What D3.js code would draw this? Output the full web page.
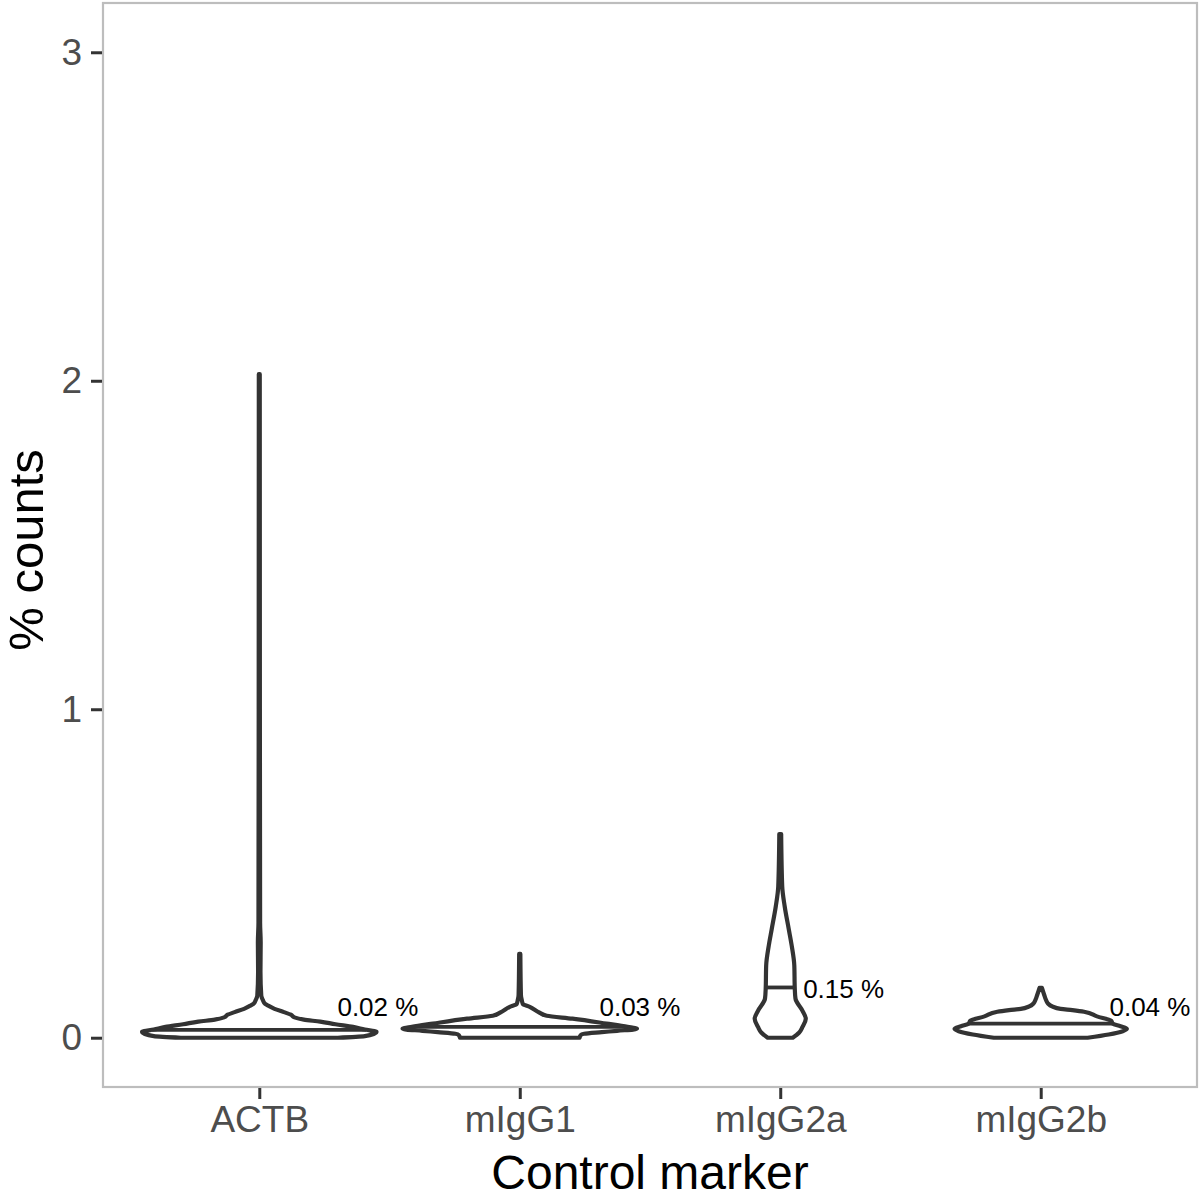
<!DOCTYPE html>
<html>
<head>
<meta charset="utf-8">
<script src="https://cdn.jsdelivr.net/npm/d3@7"></script>
<style>
  html, body { margin: 0; padding: 0; background: #fff; }
  svg { display: block; }
  text { font-family: "Liberation Sans", Arial, Helvetica, sans-serif; }
</style>
</head>
<body>
<svg id="chart" width="1201" height="1200"></svg>
<script>
// ---------------- data ----------------
const categories = ["ACTB", "mIgG1", "mIgG2a", "mIgG2b"];
const yTicks = [0, 1, 2, 3];
const medians = [0.024, 0.033, 0.153, 0.043];
const labels = ["0.02 %", "0.03 %", "0.15 %", "0.04 %"];
// label anchors: [x offset in category steps, y value of baseline]
const labelAnchors = [[0.30, 0.067], [0.306, 0.067], [0.088, 0.122], [0.264, 0.067]];

// violin density profiles: y values (% counts) and relative half-width (max = 1)
const actbY = [0, 0.005, 0.012, 0.018, 0.025, 0.033, 0.041, 0.049, 0.055, 0.062, 0.070, 0.078, 0.088, 0.096, 0.103, 0.115, 0.128, 0.2, 0.29, 0.35, 1.0, 2.02];
const actbW = [0.67, 0.90, 0.98, 1.0, 0.90, 0.80, 0.65, 0.52, 0.38, 0.30, 0.27, 0.21, 0.13, 0.085, 0.05, 0.03, 0.017, 0.01, 0.012, 0.007, 0.005, 0.004];

const migg1Y = [0, 0.008, 0.012, 0.017, 0.021, 0.027, 0.033, 0.043, 0.058, 0.067, 0.076, 0.094, 0.103, 0.115, 0.13, 0.255];
const migg1W = [0.51, 0.52, 0.55, 0.70, 0.83, 1.0, 0.92, 0.74, 0.45, 0.23, 0.17, 0.085, 0.026, 0.017, 0.01, 0.005];

const migg2aY = [0, 0.015, 0.033, 0.058, 0.082, 0.119, 0.15, 0.22, 0.28, 0.33, 0.40, 0.46, 0.62];
const migg2aW = [0.107, 0.16, 0.19, 0.218, 0.19, 0.13, 0.124, 0.12, 0.098, 0.073, 0.038, 0.017, 0.008];

const migg2bY = [0, 0.01, 0.02, 0.027, 0.035, 0.043, 0.052, 0.065, 0.079, 0.084, 0.088, 0.095, 0.105, 0.115, 0.13, 0.152];
const migg2bW = [0.40, 0.58, 0.70, 0.735, 0.68, 0.615, 0.60, 0.48, 0.37, 0.27, 0.17, 0.10, 0.06, 0.045, 0.03, 0.01];

const profiles = [[actbY, actbW], [migg1Y, migg1W], [migg2aY, migg2aW], [migg2bY, migg2bW]];

// ---------------- layout ----------------
const panel = { left: 103, right: 1197, top: 3, bottom: 1087 };
const FONT = "Liberation Sans, Arial, Helvetica, sans-serif";

const svg = d3.select("#chart");

const x = d3.scalePoint().domain(categories).range([panel.left, panel.right]).padding(0.6);
const y = d3.scaleLinear().domain([-0.15, 3.15]).range([panel.bottom, panel.top]);
const step = x.step();
const maxHalf = 0.45 * step;

// panel background
svg.append("rect")
  .attr("x", panel.left).attr("y", panel.top)
  .attr("width", panel.right - panel.left).attr("height", panel.bottom - panel.top)
  .attr("fill", "#fff");

// violins
const violinG = svg.append("g");
categories.forEach((cat, i) => {
  const [ys, ws] = profiles[i];
  const pts = ys.map((v, j) => ({ v, w: ws[j] }));
  const cx = x(cat);
  const area = d3.area()
    .y(d => y(d.v))
    .x0(d => cx - d.w * maxHalf)
    .x1(d => cx + d.w * maxHalf)
    .curve(d3.curveMonotoneY);
  violinG.append("path")
    .attr("d", area(pts))
    .attr("fill", "#fff")
    .attr("stroke", "#333333")
    .attr("stroke-width", 4.2)
    .attr("stroke-linejoin", "round");

  // median line
  const interp = d3.scaleLinear().domain(ys).range(ws);
  const mw = interp(medians[i]) * maxHalf;
  violinG.append("line")
    .attr("x1", cx - mw).attr("x2", cx + mw)
    .attr("y1", y(medians[i])).attr("y2", y(medians[i]))
    .attr("stroke", "#333333")
    .attr("stroke-width", 3.8);

  // label
  svg.append("text")
    .attr("x", cx + labelAnchors[i][0] * step)
    .attr("y", y(labelAnchors[i][1]))
    .attr("font-size", 26)
    .attr("fill", "#000")
    .text(labels[i]);
});

// panel border
svg.append("rect")
  .attr("x", panel.left).attr("y", panel.top)
  .attr("width", panel.right - panel.left).attr("height", panel.bottom - panel.top)
  .attr("fill", "none")
  .attr("stroke", "#bdbdbd")
  .attr("stroke-width", 2.2);

// y axis
const yAxis = d3.axisLeft(y).tickValues(yTicks).tickSize(11).tickPadding(9).tickFormat(d3.format("d"));
const gy = svg.append("g").attr("transform", `translate(${panel.left - 1},0)`).call(yAxis);
gy.select(".domain").remove();
gy.selectAll(".tick line").attr("stroke", "#333333").attr("stroke-width", 3);
gy.selectAll(".tick text").attr("font-size", 37).attr("fill", "#4d4d4d").attr("font-family", FONT);

// x axis
const xAxis = d3.axisBottom(x).tickSize(11).tickPadding(7);
const gx = svg.append("g").attr("transform", `translate(0,${panel.bottom + 1})`).call(xAxis);
gx.select(".domain").remove();
gx.selectAll(".tick line").attr("stroke", "#333333").attr("stroke-width", 3);
gx.selectAll(".tick text").attr("font-size", 37).attr("fill", "#4d4d4d").attr("font-family", FONT);

// axis titles
svg.append("text")
  .attr("x", (panel.left + panel.right) / 2)
  .attr("y", 1189)
  .attr("text-anchor", "middle")
  .attr("font-size", 48)
  .attr("fill", "#000")
  .text("Control marker");

svg.append("text")
  .attr("transform", `translate(43,${(panel.top + panel.bottom) / 2 + 5}) rotate(-90)`)
  .attr("text-anchor", "middle")
  .attr("font-size", 49)
  .attr("fill", "#000")
  .text("% counts");
</script>
</body>
</html>
